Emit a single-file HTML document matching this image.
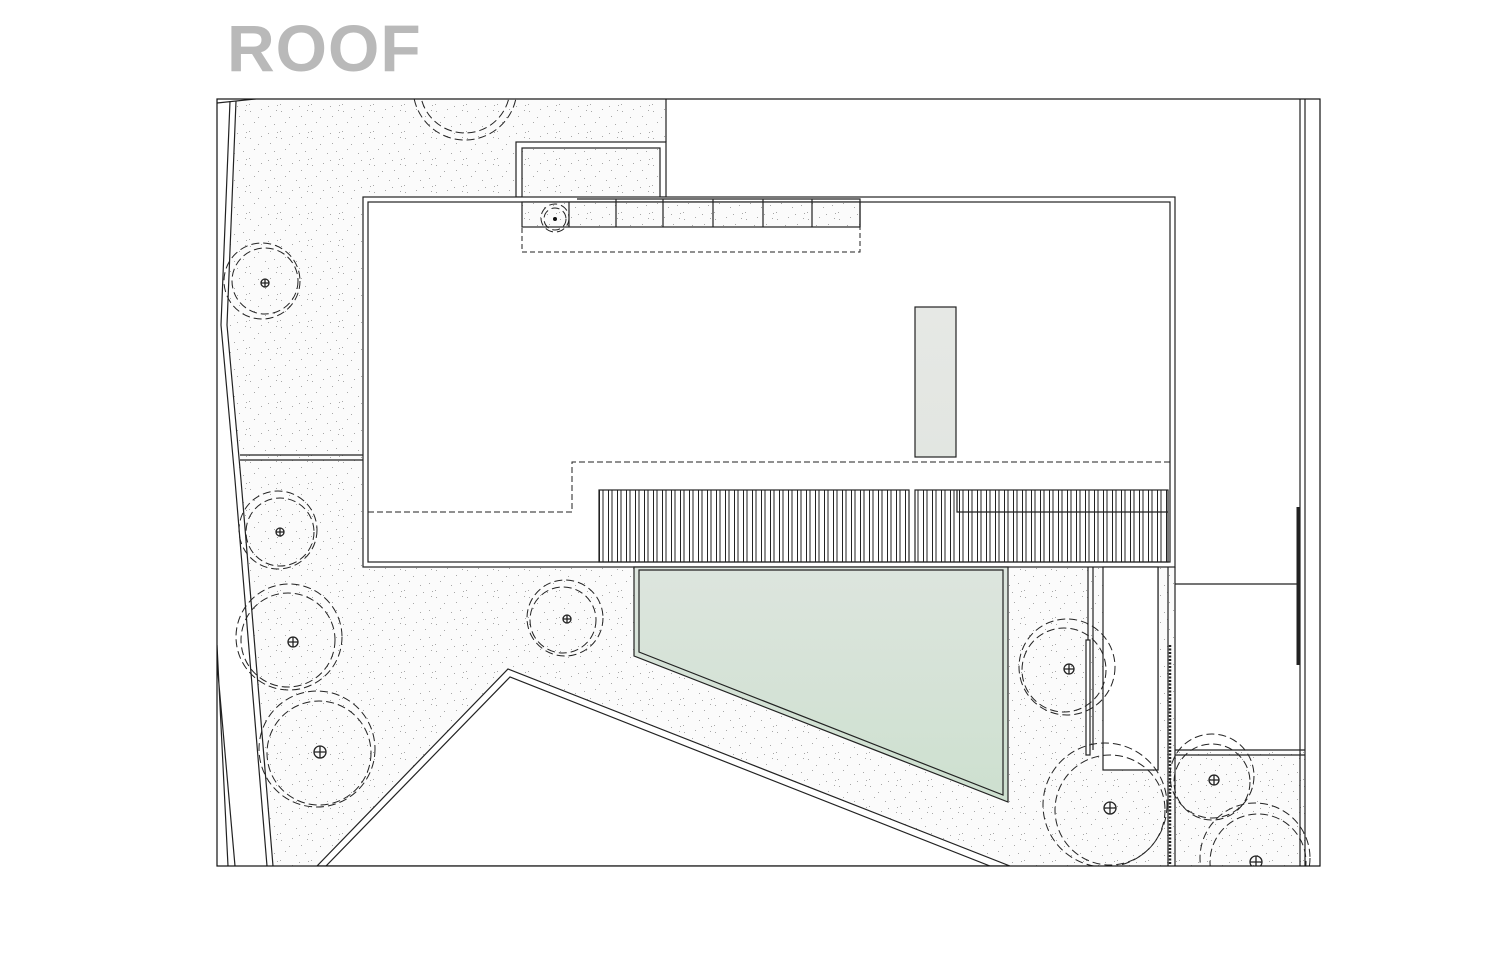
<!DOCTYPE html>
<html><head><meta charset="utf-8"><style>
html,body{margin:0;padding:0;background:#fff;width:1510px;height:954px;overflow:hidden}
.t{position:absolute;left:227px;top:10px;font:bold 66px "Liberation Sans",sans-serif;color:#b9b9b9;letter-spacing:1px}
</style></head><body>
<div class="t">ROOF</div>
<svg width="1510" height="954" style="position:absolute;left:0;top:0" xmlns="http://www.w3.org/2000/svg">
<defs>
<pattern id="sp" width="31" height="27" patternUnits="userSpaceOnUse">
<rect width="31" height="27" fill="#fbfbfb"/>
<g fill="#a8a8a8">
<rect x="2" y="3" width="1" height="1"/><rect x="13" y="1" width="1" height="1"/><rect x="22" y="8" width="1" height="1"/>
<rect x="28" y="2" width="1" height="1"/><rect x="6" y="14" width="1" height="1"/><rect x="17" y="18" width="1" height="1"/>
<rect x="26" y="16" width="1" height="1"/><rect x="1" y="23" width="1" height="1"/><rect x="10" y="9" width="1" height="1"/>
<rect x="29" y="24" width="1" height="1"/><rect x="20" y="25" width="1" height="1"/>
</g></pattern>
<linearGradient id="pg" x1="0" y1="0" x2="0" y2="1"><stop offset="0" stop-color="#dde5de"/><stop offset="1" stop-color="#cde0cf"/></linearGradient>
<linearGradient id="gg" x1="0" y1="0" x2="0" y2="1"><stop offset="0" stop-color="#e6e8e5"/><stop offset="1" stop-color="#e2e6e1"/></linearGradient>
<pattern id="bars" width="9" height="80" patternUnits="userSpaceOnUse" x="599">
<rect x="0" y="0" width="1" height="80" fill="#222"/><rect x="3.5" y="0" width="1" height="80" fill="#222"/>
</pattern>
<clipPath id="fr"><rect x="217" y="99" width="1103" height="767"/></clipPath>
</defs>
<g stroke="#222" stroke-width="1.2" fill="none" clip-path="url(#fr)">
<path d="M236,100 L666,100 L666,197 L363,197 L363,567 L1175,567 L1175,750 L1305,750 L1305,866 L273,866 L240,480 L227,325 Z" fill="url(#sp)" stroke="none"/>
<rect x="516" y="142" width="150" height="55" fill="#fff" stroke="#222"/>
<rect x="522" y="148" width="138" height="50" fill="url(#sp)"/>
<path d="M317,866 L508,669 L1010,866 Z" fill="#fff"/>
<path d="M326,866 L510,677 L990,866" />
<path d="M217,103 L265,98"/>
<path d="M230,101 L221,325 L235,480 L267,866"/>
<path d="M236,101 L227,325 L241,480 L273,866"/>
<path d="M217,645 L228,866 M217,662 L235,866"/>
<path d="M666,99 L666,142"/>
<path d="M240,455 L363,455 M240,460 L363,460"/>
<path d="M1300,99 L1300,866 M1305,99 L1305,866"/>
<path d="M1298,507 L1298,665" stroke-width="3"/>
<path d="M1175,584 L1297,584 M1175,750 L1305,750 M1175,755 L1305,755"/>
<rect x="363" y="197" width="812" height="370" fill="#fff"/>
<rect x="368" y="202" width="802" height="360"/>
<path d="M368,512 L572,512 L572,462 L1170,462" stroke-dasharray="6,3" stroke-width="1"/>
<rect x="599" y="490" width="310" height="72" fill="url(#bars)" stroke="none"/>
<rect x="915" y="490" width="253" height="72" fill="url(#bars)" stroke="none"/>
<rect x="599" y="490" width="310" height="72"/>
<rect x="915" y="490" width="253" height="72"/>
<path d="M957,490 L957,512 L1168,512"/>
<rect x="915" y="307" width="41" height="150" fill="url(#gg)"/>
<rect x="522" y="202" width="338" height="25" fill="url(#sp)"/>
<path d="M569,202 L569,227 M616,199 L616,227 M663,199 L663,227 M713,199 L713,227 M763,199 L763,227 M812,199 L812,227 M577,199 L860,199 L860,227"/>
<rect x="522" y="227" width="338" height="25" stroke-dasharray="5,3" stroke-width="1"/>
<path d="M634,567 L1008,567 L1008,802 L634,656 Z" fill="url(#pg)"/>
<path d="M639,570 L1003,570 L1003,795 L639,652 Z"/>
<path d="M1088,567 L1088,750 M1093,567 L1093,750 M1158,567 L1158,770 M1168,567 L1168,866 M1175,567 L1175,866"/>
<rect x="1103" y="567" width="55" height="203" fill="#fff"/>
<rect x="1086" y="640" width="4" height="115" fill="#fff"/>
<path d="M1170,645 L1170,866" stroke-dasharray="2,1.5" stroke-width="2.5"/>
<g stroke-dasharray="8,4" stroke-width="1">
<circle cx="465" cy="88" r="52"/><circle cx="465" cy="88" r="45"/>
<circle cx="262" cy="281" r="38"/><circle cx="265" cy="281" r="33"/>
<circle cx="278" cy="530" r="39"/><circle cx="280" cy="532" r="34"/>
<circle cx="289" cy="637" r="53"/><circle cx="288" cy="640" r="47"/>
<circle cx="317" cy="749" r="58"/><circle cx="319" cy="753" r="52"/>
<circle cx="565" cy="618" r="38"/><circle cx="563" cy="620" r="33"/>
<circle cx="1067" cy="667" r="48"/><circle cx="1064" cy="670" r="42"/>
<circle cx="1105" cy="805" r="62"/><circle cx="1110" cy="810" r="55"/>
<circle cx="1212" cy="776" r="42"/><circle cx="1212" cy="782" r="38"/>
<circle cx="1255" cy="858" r="55"/><circle cx="1258" cy="862" r="48"/>
<circle cx="555" cy="218" r="14"/><circle cx="555" cy="219" r="11"/>
</g>
<g stroke-width="1.3">
<circle cx="265" cy="283" r="4"/><circle cx="280" cy="532" r="4"/><circle cx="293" cy="642" r="5"/>
<circle cx="320" cy="752" r="6"/><circle cx="567" cy="619" r="4"/><circle cx="1069" cy="669" r="5"/>
<circle cx="1110" cy="808" r="6"/><circle cx="1214" cy="780" r="5"/><circle cx="1256" cy="862" r="6"/>
<path d="M261,283h8M265,279v8M276,532h8M280,528v8M288,642h10M293,637v10M314,752h12M320,746v12M563,619h8M567,615v8M1064,669h10M1069,664v10M1104,808h12M1110,802v12M1209,780h10M1214,775v10M1250,862h12M1256,856v12"/>
</g>
<circle cx="555" cy="219" r="2" fill="#111" stroke="none"/>
</g>
<rect x="217" y="99" width="1103" height="767" stroke="#111" stroke-width="1.2" fill="none"/>
</svg>
</body></html>
